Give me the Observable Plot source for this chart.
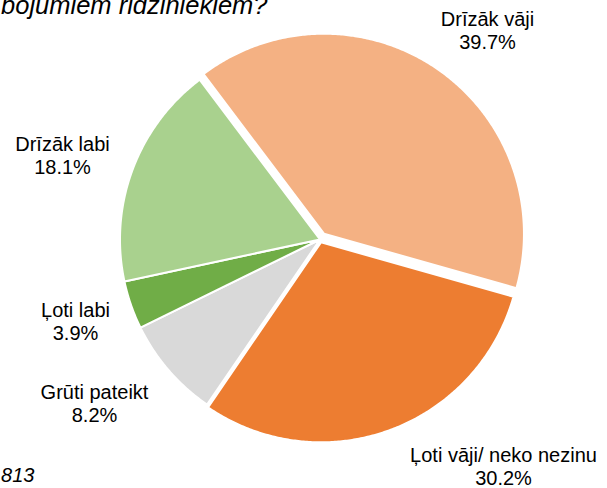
<!DOCTYPE html>
<html>
<head>
<meta charset="utf-8">
<script src="https://cdn.jsdelivr.net/npm/d3@7"></script>
<script src="https://cdn.jsdelivr.net/npm/@observablehq/plot@0.6"></script>
<style>
  html, body { margin: 0; padding: 0; background: #fff; }
  #chart svg { display: block; font-family: "Liberation Sans", Arial, sans-serif; }
</style>
</head>
<body>
<div id="chart"></div>
<script>
// ---- data ----
const categories = ["Drīzāk vāji", "Ļoti vāji/ neko nezinu", "Grūti pateikt", "Ļoti labi", "Drīzāk labi"];
const values = [39.7, 30.2, 8.2, 3.9, 18.1];
const valueLabels = ["39.7%", "30.2%", "8.2%", "3.9%", "18.1%"];
const colors = ["#F4B183", "#ED7D31", "#D9D9D9", "#70AD47", "#A9D18E"];
const titleText = "bojumiem rīdziniekiem?";
const noteText = "n = 813";

// ---- layout ----
const W = 607, H = 488;
const cx = 319.5, cy = 239, R = 200;
const startDeg = -37;
const explode = [7, 3, 0, 0, 0];
const labelAt = [[487, 30], [503, 466], [94, 403], [75, 321], [62, 155]];

const rows = categories.map((c, i) => ({label: c, value: values[i], i}));
const pie = d3.pie().sort(null).value(d => d.value)
  .startAngle(startDeg * Math.PI / 180)
  .endAngle(startDeg * Math.PI / 180 + 2 * Math.PI);
const arcs = pie(rows);

const pts = [];
arcs.forEach(a => {
  const mid = (a.startAngle + a.endAngle) / 2;
  const e = explode[a.data.i];
  const ox = cx + e * Math.sin(mid), oy = cy - e * Math.cos(mid);
  pts.push({label: a.data.label, x: ox, y: oy});
  const n = Math.max(2, Math.ceil((a.endAngle - a.startAngle) / (Math.PI / 360)));
  for (let k = 0; k <= n; k++) {
    const t = a.startAngle + (a.endAngle - a.startAngle) * k / n;
    pts.push({label: a.data.label, x: ox + R * Math.sin(t), y: oy - R * Math.cos(t)});
  }
});

const labels = rows.map((d, i) => ({
  text: d.label + "\n" + valueLabels[i],
  x: labelAt[i][0], y: labelAt[i][1]
}));

const chart = Plot.plot({
  width: W, height: H,
  margin: 0,
  x: {domain: [0, W], range: [0, W], axis: null},
  y: {domain: [0, H], range: [0, H], axis: null},
  color: {domain: categories, range: colors},
  style: {fontFamily: '"Liberation Sans", Arial, sans-serif', background: "#fff"},
  marks: [
    Plot.line(pts, {x: "x", y: "y", z: "label", fill: "label", stroke: "white", strokeWidth: 2, curve: "linear-closed"}),
    Plot.text(labels, {x: "x", y: "y", text: "text", fontSize: 20, lineHeight: 1.15, fill: "#000", textAnchor: "middle", lineAnchor: "middle"}),
    Plot.text([titleText], {x: () => 267, y: () => 13, text: d => d, fontSize: 25.5, fontStyle: "italic", textAnchor: "end", lineAnchor: "bottom", fill: "#000"}),
    Plot.text([noteText], {x: () => 34, y: () => 481, text: d => d, fontSize: 20, fontStyle: "italic", textAnchor: "end", lineAnchor: "bottom", fill: "#000"})
  ]
});
document.getElementById("chart").append(chart);
</script>
</body>
</html>
